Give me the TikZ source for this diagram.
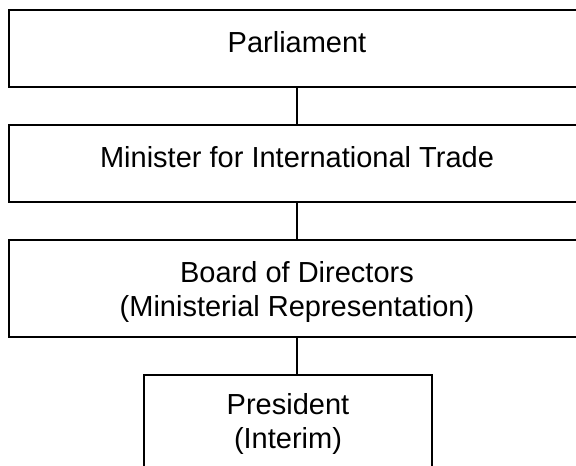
\documentclass[tikz,border=0pt]{standalone}
\usepackage{fontspec}
\setmainfont{Liberation Sans}
\usepackage{tikz}
\usetikzlibrary{positioning}

\begin{document}
\begin{tikzpicture}[x=1pt,y=-1pt,
box/.style={draw,line width=2pt,inner sep=0pt,outer sep=0pt,minimum width=576pt,minimum height=77pt},
lbl/.style={inner sep=0pt,outer sep=0pt,align=center,font=\fontsize{29}{34}\selectfont}]
\clip (0,0) rectangle (576,466);
\node[box,anchor=north] (parl) at (297,10) {};
\node[box,anchor=north] (mini) at (297,125) {};
\node[box,anchor=north,minimum height=97pt] (board) at (297,240) {};
\node[box,anchor=north,minimum width=288pt,minimum height=97pt] (pres) at (288,375) {};
\node[lbl,below=21pt of parl.north] (parltxt) {Parliament};
\node[lbl,below=21pt of mini.north] (minitxt) {Minister for International Trade};
\node[lbl,below=21pt of board.north] (boardtxt) {Board of Directors\\(Ministerial Representation)};
\node[lbl,below=18pt of pres.north] (prestxt) {President\\(Interim)};
\draw[line width=2pt] (parl) -- (mini);
\draw[line width=2pt] (mini) -- (board);
\draw[line width=2pt] (board.south) -- (board.south |- pres.north);
\end{tikzpicture}
\end{document}
